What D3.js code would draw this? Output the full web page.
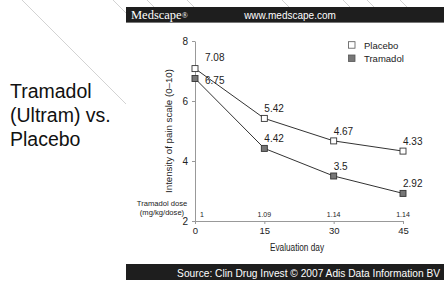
<!DOCTYPE html>
<html>
<head>
<meta charset="utf-8">
<script src="https://cdn.jsdelivr.net/npm/d3@7"></script>
<style>
  body { margin: 0; background: #fff; }
  svg { display: block; font-family: "Liberation Sans", Arial, sans-serif; }
</style>
</head>
<body>
<div id="chart"></div>
<script>
// Data
const days = [0, 15, 30, 45];
const placebo = [7.08, 5.42, 4.67, 4.33];
const tramadol = [6.75, 4.42, 3.5, 2.92];
const doses = ["1", "1.09", "1.14", "1.14"];
const yTicks = [2, 4, 6, 8];
const seriesNames = ["Placebo", "Tramadol"];
const titleLines = ["Tramadol", "(Ultram) vs.", "Placebo"];
const decoStarts = [22, 113, 147, 187, 282, 343, 367, 400];

const W = 444, H = 281;
const svg = d3.select("#chart").append("svg")
  .attr("width", W).attr("height", H);

// template diagonal lines
svg.selectAll("line.deco")
  .data(decoStarts)
  .enter().append("line")
    .attr("class", "deco")
    .attr("x1", d => d).attr("y1", 0)
    .attr("x2", d => d + 120).attr("y2", 120)
    .attr("stroke", "#c8c8c8").attr("stroke-width", 0.8);

// slide title
svg.append("text")
  .attr("x", 10).attr("y", 98)
  .attr("font-size", 19.5).attr("fill", "#111")
  .selectAll("tspan")
  .data(titleLines)
  .enter().append("tspan")
    .attr("x", 10)
    .attr("dy", (d, i) => i === 0 ? 0 : 24)
    .text(d => d);

// chart panel
svg.append("rect")
  .attr("x", 126).attr("y", 7).attr("width", W - 126).attr("height", H - 7)
  .attr("fill", "#fff");

// header bar
svg.append("rect")
  .attr("x", 126).attr("y", 7).attr("width", W - 126).attr("height", 16)
  .attr("fill", "#1e1e1e");
svg.append("line")
  .attr("x1", 126).attr("x2", W).attr("y1", 22.5).attr("y2", 22.5)
  .attr("stroke", "#777").attr("stroke-width", 1);
const brand = svg.append("text")
  .attr("x", 131).attr("y", 19)
  .attr("font-family", "'Liberation Serif', 'Times New Roman', serif")
  .attr("font-size", 12.5).attr("fill", "#fff")
  .text("Medscape");
brand.append("tspan")
  .attr("font-size", 8).attr("dy", -1)
  .text("®");
svg.append("text")
  .attr("x", 290).attr("y", 18.5)
  .attr("text-anchor", "middle")
  .attr("font-size", 10).attr("fill", "#fff")
  .text("www.medscape.com");

// footer bar
svg.append("rect")
  .attr("x", 126).attr("y", 264).attr("width", W - 126).attr("height", 16)
  .attr("fill", "#1e1e1e");
svg.append("text")
  .attr("x", 440).attr("y", 277)
  .attr("text-anchor", "end")
  .attr("font-size", 10.2).attr("fill", "#fff")
  .text("Source: Clin Drug Invest © 2007 Adis Data Information BV");

// scales
const x = d3.scaleLinear().domain([0, 45]).range([195, 403]);
const y = d3.scaleLinear().domain([2, 8]).range([221, 41]);

// axes
const gy = svg.append("g")
  .attr("transform", `translate(${x(0)},0)`)
  .call(d3.axisLeft(y).tickValues(yTicks).tickFormat(d3.format("d"))
    .tickSize(3).tickSizeOuter(0).tickPadding(4));
gy.selectAll("text").attr("font-size", 10).attr("fill", "#222");

const gx = svg.append("g")
  .attr("transform", `translate(0,${y(2)})`)
  .call(d3.axisBottom(x).tickValues(days).tickFormat(d3.format("d"))
    .tickSize(3).tickSizeOuter(0).tickPadding(3));
gx.selectAll("text").attr("font-size", 9.5).attr("fill", "#222");

[gx, gy].forEach(g => {
  g.selectAll("path, line").attr("stroke", "#999");
  g.selectAll("text").attr("font-family", "'Liberation Sans', Arial, sans-serif");
});

// axis titles
svg.append("text")
  .attr("transform", `translate(172,${(y(2) + y(8)) / 2}) rotate(-90)`)
  .attr("text-anchor", "middle")
  .attr("font-size", 9.7).attr("fill", "#222")
  .text("Intensity of pain scale (0–10)");

svg.append("text")
  .attr("x", 297).attr("y", 251)
  .attr("text-anchor", "middle")
  .attr("font-size", 10).attr("fill", "#222")
  .attr("textLength", 54).attr("lengthAdjust", "spacingAndGlyphs")
  .text("Evaluation day");

// dose row
svg.append("text")
  .attr("x", 162).attr("y", 205.5)
  .attr("text-anchor", "middle")
  .attr("font-size", 7.6).attr("fill", "#222")
  .text("Tramadol dose");
svg.append("text")
  .attr("x", 162).attr("y", 214.5)
  .attr("text-anchor", "middle")
  .attr("font-size", 7.6).attr("fill", "#222")
  .text("(mg/kg/dose)");
svg.selectAll("text.dose")
  .data(doses)
  .enter().append("text")
    .attr("class", "dose")
    .attr("x", (d, i) => i === 0 ? x(days[i]) + 7 : x(days[i]))
    .attr("y", y(2) - 4)
    .attr("text-anchor", "middle")
    .attr("font-size", 7).attr("fill", "#222")
    .text(d => d);

// series
const series = [
  { name: seriesNames[0], values: placebo, fill: "#fff" },
  { name: seriesNames[1], values: tramadol, fill: "#777" }
];

const line = d3.line()
  .x((d, i) => x(days[i]))
  .y(d => y(d));

series.forEach((s, si) => {
  svg.append("path")
    .datum(s.values)
    .attr("fill", "none")
    .attr("stroke", "#333")
    .attr("stroke-width", 1)
    .attr("d", line);

  svg.selectAll(`rect.pt${si}`)
    .data(s.values)
    .enter().append("rect")
      .attr("class", `pt${si}`)
      .attr("x", (d, i) => x(days[i]) - 3)
      .attr("y", d => y(d) - 3)
      .attr("width", 6).attr("height", 6)
      .attr("fill", s.fill)
      .attr("stroke", "#333").attr("stroke-width", 0.9);

  svg.selectAll(`text.lbl${si}`)
    .data(s.values)
    .enter().append("text")
      .attr("class", `lbl${si}`)
      .attr("x", (d, i) => i === 0 ? x(days[i]) + 10 : x(days[i]))
      .attr("y", (d, i) => i === 0 ? (si === 0 ? y(d) - 7.5 : y(d) + 5.5) : y(d) - 6)
      .attr("font-size", 10).attr("fill", "#222")
      .text(d => d);
});

// legend
const legend = svg.append("g").attr("transform", "translate(348.5,45)");
series.forEach((s, i) => {
  legend.append("rect")
    .attr("x", 0).attr("y", i * 13.3 - 3.3)
    .attr("width", 6.5).attr("height", 6.5)
    .attr("fill", s.fill)
    .attr("stroke", "#555").attr("stroke-width", 0.8);
  legend.append("text")
    .attr("x", 15.5).attr("y", i * 13.3 + 3.5)
    .attr("font-size", 9.5).attr("fill", "#222")
    .text(s.name);
});
</script>
</body>
</html>
